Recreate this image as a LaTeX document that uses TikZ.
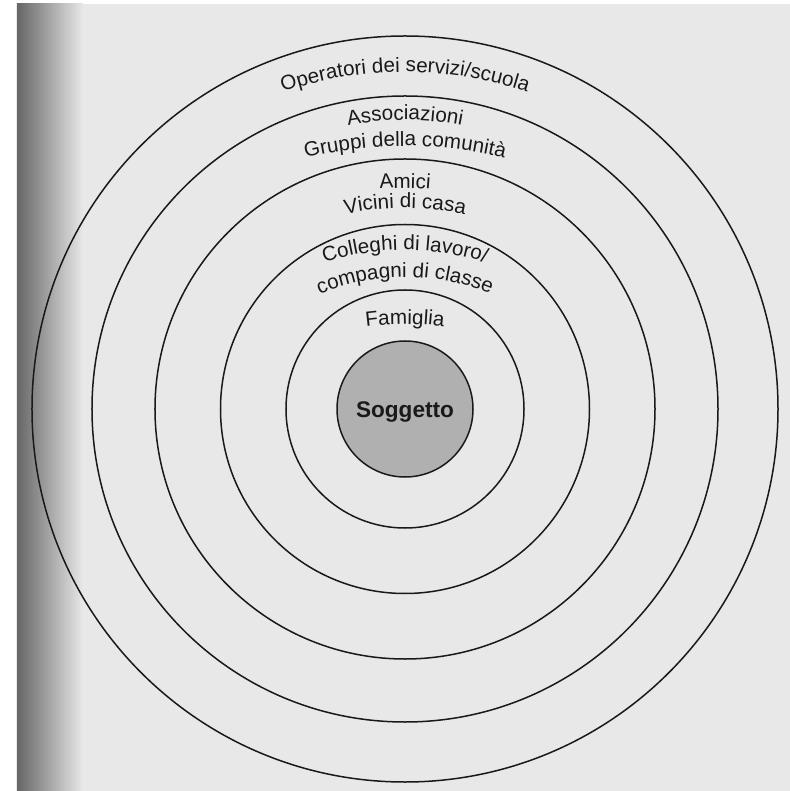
\documentclass[tikz,border=0pt]{standalone}
\usepackage{fontspec}
\usetikzlibrary{decorations.text}
\newfontfamily\lblfamily{Liberation Sans}
\newcommand{\lblfont}{\lblfamily\fontsize{10.3pt}{12pt}\selectfont}
\definecolor{pageB}{rgb}{0.91,0.91,0.91}
\definecolor{gutterB}{rgb}{0.40,0.40,0.40}
\definecolor{fillS}{rgb}{0.69,0.69,0.69}
\definecolor{inkB}{rgb}{0.10,0.10,0.10}

\begin{document}
\begin{tikzpicture}[x=0.5pt, y=0.5pt, line cap=round,
  ring/.style={draw=inkB, line width=0.75pt},
  arclabel/.style={decorate, decoration={text along path, text align=center}}]
\useasboundingbox (-405,-382) rectangle (385,409);
% 纸面与书脊阴影
\fill[white] (-405,-382) rectangle (385,409);
\fill[pageB] (-388,-382) rectangle (385,405);
\shade[left color=gutterB, right color=pageB] (-388,-382) rectangle (-322,405);
% 同心圆
\draw[ring] (0,0) circle[radius=373];
\draw[ring] (0,0) circle[radius=313];
\draw[ring] (0,0) circle[radius=250];
\draw[ring] (0,0) circle[radius=184.5];
\draw[ring] (0,0) circle[radius=119];
\draw[ring, fill=fillS] (0,0) circle[radius=68];
% 弧形标签
\path[arclabel, decoration={text={|\lblfont\color{inkB}|Operatori dei servizi/scuola}}]
  ([shift={(0,-43)}]130:380) arc[start angle=130, end angle=50, radius=380];
\path[arclabel, decoration={text={|\lblfont\color{inkB}|Associazioni}}]
  ([shift={(0,-11)}]130:300) arc[start angle=130, end angle=50, radius=300];
\path[arclabel, decoration={text={|\lblfont\color{inkB}|Gruppi della comunità}}]
  ([shift={(0,-157)}]130:420) arc[start angle=130, end angle=50, radius=420];
\path[arclabel, decoration={text={|\lblfont\color{inkB}|Amici}}]
  ([shift={(0,-79)}]130:300) arc[start angle=130, end angle=50, radius=300];
\path[arclabel, decoration={text={|\lblfont\color{inkB}|Vicini di casa}}]
  ([shift={(0,-89)}]130:290) arc[start angle=130, end angle=50, radius=290];
\path[arclabel, decoration={text={|\lblfont\color{inkB}|Colleghi di lavoro/}}]
  ([shift={(0,-101)}]130:260) arc[start angle=130, end angle=50, radius=260];
\path[arclabel, decoration={text={|\lblfont\color{inkB}|compagni di classe}}]
  ([shift={(0,-88)}]130:220) arc[start angle=130, end angle=50, radius=220];
\path[arclabel, decoration={text={|\lblfont\color{inkB}|Famiglia}}]
  ([shift={(0,-215)}]130:300) arc[start angle=130, end angle=50, radius=300];
% 中心
\node[font=\lblfamily\bfseries\fontsize{11.3pt}{13pt}\selectfont, text=inkB, anchor=base] (sogg) at (0,-9) {Soggetto};
\end{tikzpicture}
\end{document}
